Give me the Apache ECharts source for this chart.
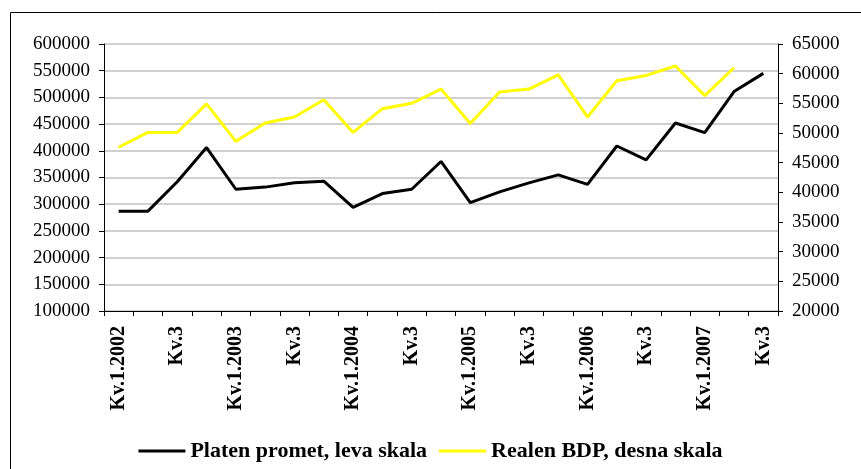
<!DOCTYPE html>
<html>
<head>
<meta charset="utf-8">
<script src="https://cdn.jsdelivr.net/npm/echarts@6/dist/echarts.min.js"></script>
<style>
  html, body { margin: 0; padding: 0; background: #fff; }
  #chart { width: 861px; height: 469px; }
</style>
</head>
<body>
<div id="chart"></div>
<script>
// kvartali 2002 Q1 - 2007 Q3
const quarters = [
    'Kv.1.2002', 'Kv.2', 'Kv.3', 'Kv.4',
    'Kv.1.2003', 'Kv.2', 'Kv.3', 'Kv.4',
    'Kv.1.2004', 'Kv.2', 'Kv.3', 'Kv.4',
    'Kv.1.2005', 'Kv.2', 'Kv.3', 'Kv.4',
    'Kv.1.2006', 'Kv.2', 'Kv.3', 'Kv.4',
    'Kv.1.2007', 'Kv.2', 'Kv.3'
]

// Platen promet (leva skala)
const platenPromet = [
    287000, 287000, 342000, 406000, 328000, 332000, 340000, 343000,
    294000, 320000, 328000, 380000, 303000, 323000, 340000, 355000,
    337000, 409000, 383000, 452000, 434000, 511000, 545000
]

// Realen BDP (desna skala)
const realenBdp = [
    47600, 50100, 50100, 54900, 48600, 51700, 52700, 55600,
    50100, 54100, 55000, 57400, 51600, 56900, 57400, 59800,
    52700, 58800, 59700, 61300, 56300, 61000, null
]

const font = 'Liberation Serif'

const chart = echarts.init(document.getElementById('chart'))

const yAxisCommon = {
    type: 'value',
    axisLine: { show: true, lineStyle: { color: '#000', width: 1 } },
    axisTick: { show: true, length: 5, lineStyle: { color: '#000' } },
    axisLabel: {
        color: '#000', fontFamily: font, fontSize: 19, margin: 14,
        formatter: v => String(v)
    }
}

chart.setOption({
    animation: false,
    backgroundColor: '#fff',
    graphic: [{
        type: 'rect',
        shape: { x: 10.5, y: 12.5, width: 900, height: 600 },
        style: { fill: null, stroke: '#000', lineWidth: 1 },
        silent: true
    }],
    grid: { left: 104, right: 83, top: 44, bottom: 158 },
    legend: {
        bottom: 2,
        left: 'center',
        itemWidth: 47,
        itemHeight: 3,
        itemGap: 12,
        icon: 'rect',
        textStyle: { fontFamily: font, fontSize: 22, fontWeight: 'bold', color: '#000' },
        data: ['Platen promet, leva skala', 'Realen BDP, desna skala']
    },
    xAxis: {
        type: 'category',
        data: quarters,
        boundaryGap: true,
        axisLine: { lineStyle: { color: '#000', width: 1 } },
        axisTick: { show: true, interval: 0, length: 5, lineStyle: { color: '#000' } },
        axisLabel: {
            interval: 1,
            rotate: 90,
            margin: 15,
            color: '#000',
            fontFamily: font,
            fontSize: 20,
            fontWeight: 'bold'
        }
    },
    yAxis: [
        {
            ...yAxisCommon,
            position: 'left',
            min: 100000,
            max: 600000,
            interval: 50000,
            splitLine: { show: true, lineStyle: { color: '#c0c0c0', width: 1.5 } }
        },
        {
            ...yAxisCommon,
            position: 'right',
            min: 20000,
            max: 65000,
            interval: 5000,
            splitLine: { show: false }
        }
    ],
    series: [
        {
            name: 'Platen promet, leva skala',
            type: 'line',
            yAxisIndex: 0,
            data: platenPromet,
            showSymbol: false,
            itemStyle: { color: '#000' },
            lineStyle: { color: '#000', width: 3 },
            z: 3
        },
        {
            name: 'Realen BDP, desna skala',
            type: 'line',
            yAxisIndex: 1,
            data: realenBdp,
            showSymbol: false,
            itemStyle: { color: '#ffff00' },
            lineStyle: { color: '#ffff00', width: 3 },
            z: 2
        }
    ]
})
</script>
</body>
</html>
